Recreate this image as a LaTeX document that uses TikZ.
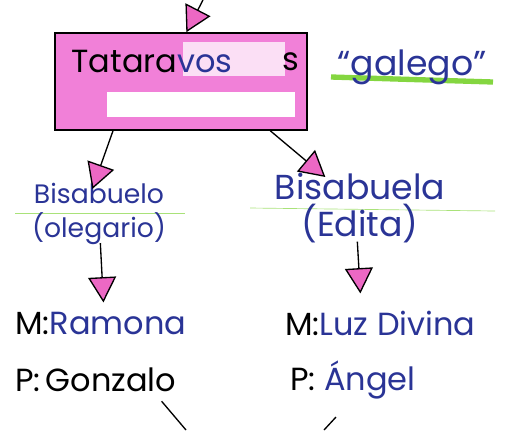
\documentclass[tikz,border=0pt]{standalone}
\usepackage{fontspec}
\setmainfont{Poppins}
\usetikzlibrary{arrows.meta}
\definecolor{boxpink}{RGB}{241,128,216}
\definecolor{tippink}{RGB}{236,104,196}
\definecolor{inkblue}{RGB}{42,52,150}
\definecolor{hlgreen}{RGB}{132,214,64}
\begin{document}
\begin{tikzpicture}[x=0.75pt,y=0.75pt,yscale=-1,xscale=1,
	link/.style={draw=black,line width=1pt,-{Triangle[length=19pt,width=21pt,fill=tippink]}},
	hand/.style={inner sep=0.75pt,font=\fontsize{24}{27}\selectfont},
	small/.style={inner sep=0.75pt,font=\fontsize{20}{25}\selectfont,align=center}]
	\useasboundingbox (0,0) rectangle (517,430);

	%Shape: Rectangle [id:tatbox]
	\node [draw,line width=1.2pt,fill=boxpink,minimum width=189pt,minimum height=72.75pt,inner sep=0pt] (tat) at (181,81.5) {};
	%patches on the box
	\fill [white,opacity=0.75] (183,42) rectangle (285,76) ;
	\fill [white] (107,92) rectangle (295,117) ;

	% Text Node
	\node [hand] (tattxt) at (152,61) {Tatara\textcolor{inkblue}{vos}};
	% Text Node
	\node [hand] (tats) at (291,62) {s};

	%Straight Lines [id:galego underline]
	\draw [hlgreen,line width=4pt] (331,77) -- (493,82) ;
	% Text Node
	\node [hand,text=inkblue,font=\fontsize{26}{28}\selectfont] (gal) at (412,67) {“galego”};

	%faint lines
	\draw [hlgreen!70,line width=0.5pt] (15,213) -- (185,213) ;
	\draw [hlgreen!70,line width=0.5pt] (250,208) -- (495,211) ;

	% Text Node
	\node [small,text=inkblue] (bisL) at (99,214) {Bisabuelo\\(olegario)};
	% Text Node
	\node [hand,align=center,text=inkblue,font=\fontsize{26}{28}\selectfont] (bisR) at (360,208) {Bisabuela\\(Edita)};

	% Text Node
	\node [hand,anchor=west] (mL) at (14,323) {M:\textcolor{inkblue}{Ramona}};
	% Text Node
	\node [hand,anchor=west] (pL) at (14,380) {P:\,Gonzalo};
	% Text Node
	\node [hand,anchor=west] (mR) at (284,323) {M:\textcolor{inkblue}{Luz Divina}};
	% Text Node
	\node [hand,anchor=west] (pR) at (289,380) {P:\ \textcolor{inkblue}{Ángel}};

	\coordinate (top) at (203,0);
	\coordinate (botL) at (186,430);
	\coordinate (botRs) at (336,417);
	\coordinate (botR) at (324,430);

	%Arrows
	\draw [link] (top) -- ([xshift=4pt]tat.north) ;
	\draw [link] ([xshift=-51pt]tat.south) -- ([xshift=-5pt,yshift=5pt]bisL.north) ;
	\draw [link] ([xshift=67pt]tat.south) -- ([xshift=-26pt,yshift=4pt]bisR.north) ;
	\draw [link] ([xshift=1pt,yshift=-2pt]bisL.south) -- ([xshift=2pt,yshift=-6pt]mL.north) ;
	\draw [link] ([xshift=-2pt,yshift=-2pt]bisR.south) -- ([xshift=-15pt,yshift=-12pt]mR.north) ;
	\draw [line width=1pt] ([xshift=-12pt,yshift=6pt]pL.south east) -- (botL) ;
	\draw [line width=1pt] (botRs) -- (botR) ;

\end{tikzpicture}
\end{document}
